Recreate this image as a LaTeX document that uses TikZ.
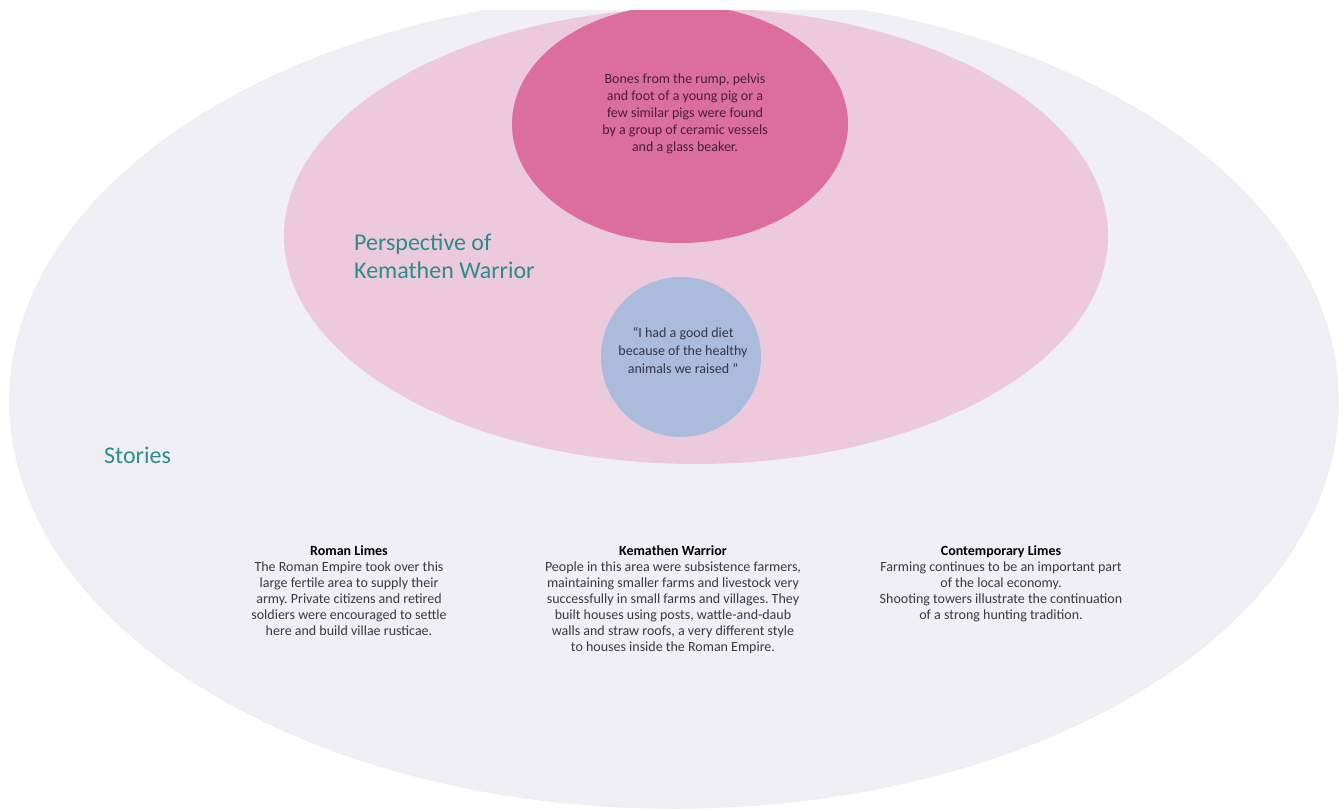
\documentclass[tikz,border=0pt]{standalone}
\usepackage{fontspec}
\setmainfont{Carlito}
\usetikzlibrary{shapes.geometric}
\frenchspacing
\definecolor{outerfill}{HTML}{F0EFF5}
\definecolor{outeredge}{HTML}{F5EBF0}
\definecolor{perspfill}{HTML}{EDCADB}
\definecolor{bonesfill}{HTML}{DB6E9C}
\definecolor{quotefill}{HTML}{AABBDB}
\definecolor{teal}{HTML}{2A8C8C}
\definecolor{bonestext}{HTML}{4A1E3A}
\definecolor{quotetext}{HTML}{33364A}
\definecolor{bodytext}{HTML}{3A3A3A}
\tikzset{
  blob/.style={ellipse, inner sep=0pt, outer sep=0pt},
  heading/.style={text=teal, font=\fontsize{24}{28}\selectfont, align=left, inner sep=0pt},
  story/.style={align=center, text=bodytext, font=\fontsize{14}{16}\selectfont\frenchspacing, inner sep=0pt, anchor=north},
}
\begin{document}
\begin{tikzpicture}[x=1pt,y=-1pt]
\useasboundingbox (0,0) rectangle (1344,811);
\begin{scope}
\clip (0,10) rectangle (1344,811);
\node[blob, fill=outerfill, draw=outeredge, line width=1.5pt, minimum width=1328pt, minimum height=814pt] (stories) at (674,401) {};
\node[blob, fill=perspfill, minimum width=824pt, minimum height=456pt] (persp) at (696,236) {};
\node[blob, fill=bonesfill, minimum width=336pt, minimum height=238pt] (bones) at (680,124) {};
\node[circle, fill=quotefill, minimum size=160pt, inner sep=0pt] (quote) at (681,357) {};
\end{scope}
\node[align=center, text=bonestext, font=\fontsize{14}{17}\selectfont, inner sep=0pt] (bonestxt) at (685,114) {Bones from the rump, pelvis\\and foot of a young pig or a\\few similar pigs were found\\by a group of ceramic vessels\\and a glass beaker.};
\node[align=center, text=quotetext, font=\fontsize{14}{18}\selectfont, inner sep=0pt] (quotetxt) at (683,350) {“I had a good diet\\because of the healthy\\animals we raised ”};
\node[heading, anchor=north west] (perspttl) at (354,234) {Perspective of\\Kemathen Warrior};
\node[heading, anchor=north west] (storiesttl) at (104,447) {Stories};
\node[story] (roman) at (349,545) {\textbf{\textcolor{black}{Roman Limes}}\\The Roman Empire took over this\\large fertile area to supply their\\army. Private citizens and retired\\soldiers were encouraged to settle\\here and build villae rusticae.};
\node[story] (kem) at (673,545) {\textbf{\textcolor{black}{Kemathen Warrior}}\\People in this area were subsistence farmers,\\maintaining smaller farms and livestock very\\successfully in small farms and villages. They\\built houses using posts, wattle-and-daub\\walls and straw roofs, a very different style\\to houses inside the Roman Empire.};
\node[story] (contemp) at (1001,545) {\textbf{\textcolor{black}{Contemporary Limes}}\\Farming continues to be an important part\\of the local economy.\\Shooting towers illustrate the continuation\\of a strong hunting tradition.};
\end{tikzpicture}
\end{document}
